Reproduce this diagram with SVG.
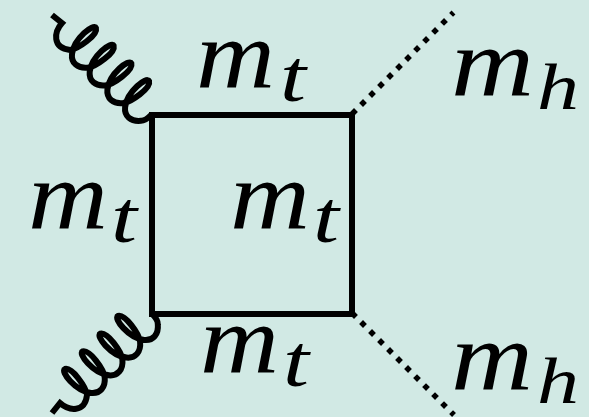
<svg xmlns="http://www.w3.org/2000/svg" width="589" height="417" viewBox="0 0 589 417">
<style>
.g{fill:none;stroke:#000;stroke-width:6}
.s{fill:none;stroke:#000;stroke-width:6}
.d{fill:none;stroke:#000;stroke-width:5.5;stroke-dasharray:5.5 7.23;stroke-dashoffset:-1.5}
text{font-family:"Liberation Serif",serif;font-style:italic;fill:#000}
.m{font-size:98px}
.t{font-size:74px}
.h{font-size:66px}
</style>
<defs>
<path id="coil" d="M52,15 L62,23 C54,32 52,48 70,50 c8,-1 28,-15 26,-22 c-2,-5 -22,10 -24,26 c-1,9 5.7,14.7 15.7,13.7 c8,-1 28,-15 26,-22 c-2,-5 -22,10 -24,26 c-1,9 5.7,14.7 15.7,13.7 c8,-1 28,-15 26,-22 c-2,-5 -22,10 -24,26 c-1,9 5.7,14.7 15.7,13.7 c8,-1 28,-15 26,-22 c-2,-5 -22,10 -24,26 c-1,9 5.7,14.7 15.7,13.7 C146,121 149,117 152,114"/>
</defs>
<rect width="589" height="417" fill="#d1e9e4"/>
<g id="connectors">
<use href="#coil" class="g"/>
<use href="#coil" class="g" transform="matrix(0 -1 1 0 37 465)"/>
<path class="d" d="M351,115 L453.5,12.5"/>
<path class="d" d="M351,312 L454,415"/>
</g>
<g id="box"><rect class="s" x="152" y="115" width="200" height="199"/></g>
<g id="label-top"><text class="m" x="196" y="87" textLength="79" lengthAdjust="spacingAndGlyphs">m</text><text class="t" x="280" y="101" textLength="26" lengthAdjust="spacingAndGlyphs">t</text></g>
<g id="label-left"><text class="m" x="28" y="228" textLength="80" lengthAdjust="spacingAndGlyphs">m</text><text class="t" x="111" y="242" textLength="26" lengthAdjust="spacingAndGlyphs">t</text></g>
<g id="label-inner"><text class="m" x="230" y="228" textLength="80" lengthAdjust="spacingAndGlyphs">m</text><text class="t" x="313" y="242" textLength="26" lengthAdjust="spacingAndGlyphs">t</text></g>
<g id="label-bottom"><text class="m" x="200" y="372" textLength="79" lengthAdjust="spacingAndGlyphs">m</text><text class="t" x="283" y="386" textLength="26" lengthAdjust="spacingAndGlyphs">t</text></g>
<g id="label-h1"><text class="m" x="451" y="95" textLength="83" lengthAdjust="spacingAndGlyphs">m</text><text class="h" x="537" y="109" textLength="42" lengthAdjust="spacingAndGlyphs">h</text></g>
<g id="label-h2"><text class="m" x="451" y="389" textLength="82" lengthAdjust="spacingAndGlyphs">m</text><text class="h" x="537" y="403" textLength="42" lengthAdjust="spacingAndGlyphs">h</text></g>
</svg>
